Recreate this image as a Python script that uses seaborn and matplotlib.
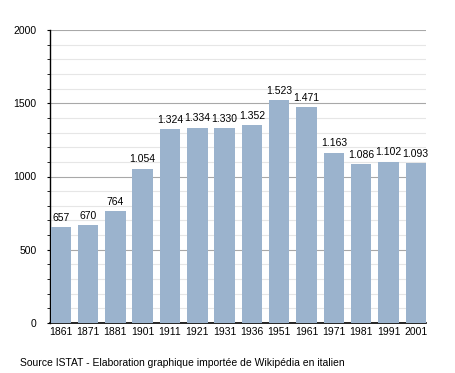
import matplotlib
matplotlib.use("Agg")
import matplotlib.pyplot as plt
import seaborn as sns
import pandas as pd
from matplotlib.ticker import MultipleLocator

years = ["1861", "1871", "1881", "1901", "1911", "1921", "1931", "1936", "1951", "1961", "1971", "1981", "1991", "2001"]
population = [657, 670, 764, 1054, 1324, 1334, 1330, 1352, 1523, 1471, 1163, 1086, 1102, 1093]
labels = ["657", "670", "764", "1.054", "1.324", "1.334", "1.330", "1.352", "1.523", "1.471", "1.163", "1.086", "1.102", "1.093"]

sns.set_style("white")
plt.rcParams['font.family'] = ['Liberation Sans', 'DejaVu Sans']
plt.rcParams['text.color'] = 'black'
plt.rcParams['xtick.color'] = 'black'
plt.rcParams['ytick.color'] = 'black'

df = pd.DataFrame({"year": years, "pop": population})

fig = plt.figure(figsize=(4.55, 3.73), dpi=100)
ax = fig.add_axes([50/455, 1 - 323/373, 376/455, 293/373])

bar_w = 0.75
sns.barplot(data=df, x="year", y="pop", color="#9bb3cd", saturation=1, width=bar_w,
            linewidth=0, edgecolor="none", ax=ax, zorder=3)

ax.set_ylim(0, 2000)
ax.set_xlim(-bar_w / 2 - 0.02, len(years) - 1 + bar_w / 2)
ax.yaxis.set_major_locator(MultipleLocator(500))
ax.yaxis.set_minor_locator(MultipleLocator(100))
ax.grid(axis="y", which="minor", color="#e6e6e6", linewidth=0.8, zorder=0)
ax.grid(axis="y", which="major", color="#a8a8a8", linewidth=0.8, zorder=1)
ax.set_axisbelow(True)

for s in ["top", "right"]:
    ax.spines[s].set_visible(False)
ax.spines["left"].set_color("black")
ax.spines["bottom"].set_color("black")
ax.spines["left"].set_linewidth(1.0)
ax.spines["bottom"].set_linewidth(1.2)

ax.tick_params(axis="y", which="major", length=2.5, width=0.8, labelsize=7.5, pad=7, left=True, colors="black")
ax.tick_params(axis="y", which="minor", length=2.5, width=0.6, left=True, colors="black")
ax.tick_params(axis="x", length=0, labelsize=7.5, pad=3, colors="black")
ax.set_xlabel("")
ax.set_ylabel("")

for p, lab in zip(ax.patches, labels):
    ax.annotate(lab, (p.get_x() + p.get_width() / 2, p.get_height()),
                xytext=(0, 3), textcoords="offset points",
                ha="center", va="bottom", fontsize=7.5, color="black")

fig.text(20/455, 1 - 363/373, "Source ISTAT - Elaboration graphique importée de Wikipédia en italien",
         fontsize=7.5, ha="left", va="center", color="black")

fig.savefig("out.png", dpi=100)
